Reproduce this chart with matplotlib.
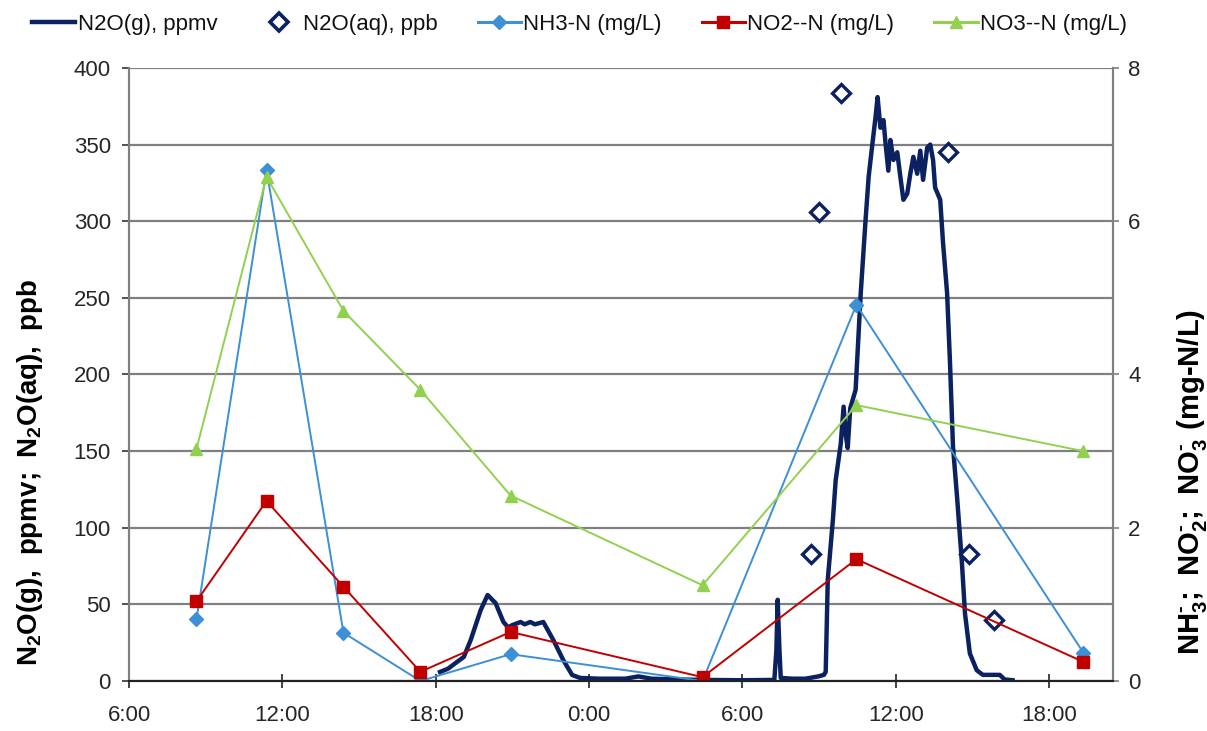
import matplotlib
matplotlib.use('Agg')
from matplotlib import pyplot as plt
from matplotlib.lines import Line2D

plt.rcParams['font.family'] = ['Liberation Sans', 'DejaVu Sans']
plt.rcParams['mathtext.fontset'] = 'custom'
plt.rcParams['mathtext.rm'] = 'Liberation Sans:bold'
plt.rcParams['mathtext.bf'] = 'Liberation Sans:bold'

# hours since midnight of day 1
sample_hours = [8.64, 11.38, 14.39, 17.40, 20.93, 28.44, 34.46, 43.34]
nh3 = [0.81, 6.67, 0.63, 0.0, 0.35, 0.0, 4.91, 0.37]
no2 = [1.04, 2.35, 1.23, 0.12, 0.64, 0.05, 1.59, 0.25]
no3 = [3.03, 6.58, 4.83, 3.80, 2.42, 1.25, 3.60, 3.00]

aq_hours = [32.70, 33.01, 33.87, 38.06, 38.88, 39.86]
aq_ppb = [83, 306, 384, 345, 83, 40]

gas_hours = [18.17, 18.48, 18.88, 19.10, 19.37, 19.76, 20.03, 20.34, 20.65, 20.83,
             21.00, 21.32, 21.48, 21.70, 21.88, 22.21, 22.60, 22.99, 23.34, 23.65,
             24.40, 25.42, 25.93, 26.44, 27.45, 28.46, 29.97, 31.25, 31.33, 31.38,
             31.45, 31.50, 31.96, 32.47, 32.97, 33.19, 33.26, 33.34, 33.54, 33.65,
             33.85, 33.96, 34.05, 34.12, 34.22, 34.43, 34.63, 34.82, 34.94, 35.09,
             35.21, 35.29, 35.40, 35.52, 35.60, 35.71, 35.79, 35.91, 36.06, 36.18,
             36.30, 36.45, 36.57, 36.69, 36.84, 36.96, 37.07, 37.23, 37.35, 37.46,
             37.54, 37.74, 37.85, 38.01, 38.12, 38.24, 38.40, 38.59, 38.71, 38.90,
             39.17, 39.41, 40.07, 40.26, 40.57]
gas_ppmv = [5.9, 8, 13, 15.7, 26.8, 46.3, 56.1, 50.9, 38.5, 35,
            36.5, 38.5, 37, 38.5, 37, 38.5, 26.8, 13.7, 3.9, 2.0,
            1.5, 1.5, 3, 1.5, 1, 0.7, 0.5, 0.7, 20, 53,
            20, 2, 1.5, 1.5, 3, 4, 6, 66, 105, 131,
            155, 179, 160, 152, 178, 190, 253, 301, 329, 351,
            368, 381, 361, 366, 351, 333, 353, 340, 345, 329,
            314, 318, 331, 342, 331, 346, 327, 348, 350, 340,
            322, 314, 286, 253, 209, 153, 120, 77, 44, 18,
            7, 4, 4, 1, 0.5]

x_ticks = [6, 12, 18, 24, 30, 36, 42]
x_labels = ['6:00', '12:00', '18:00', '0:00', '6:00', '12:00', '18:00']

navy = '#0b2160'
blue = '#3d8fd6'
red = '#c00000'
green = '#92d050'
grid_gray = '#808080'
text_col = '#262626'

fig = plt.figure(figsize=(12.07, 7.31), dpi=100)
ax = fig.add_axes([0.1069, 0.0684, 0.8152, 0.8386])
ax2 = ax.twinx()

ax.set_xlim(6, 44.5)
ax.set_ylim(0, 400)
ax2.set_ylim(0, 8)
ax.set_yticks(range(0, 401, 50))
ax2.set_yticks(range(0, 9, 2))
ax.set_xticks(x_ticks)
ax.set_xticklabels(x_labels)

ax.grid(axis='y', color=grid_gray, lw=1.6)
ax.set_axisbelow(True)

ax.plot(gas_hours, gas_ppmv, color=navy, lw=3.2, solid_joinstyle='round', zorder=3)
ax.plot(aq_hours, aq_ppb, ls='none', marker='D', markersize=9.5, mfc='white',
        mec=navy, mew=2.4, zorder=4)

ax2.plot(sample_hours, nh3, color=blue, lw=1.4, marker='D', markersize=7)
ax2.plot(sample_hours, no2, color=red, lw=1.4, marker='s', markersize=8)
ax2.plot(sample_hours, no3, color=green, lw=1.4, marker='^', markersize=8.5)

for a in (ax, ax2):
    a.spines['top'].set_visible(False)
    a.spines['left'].set_color(grid_gray)
    a.spines['right'].set_color(grid_gray)
    a.spines['left'].set_linewidth(1.5)
    a.spines['right'].set_linewidth(1.5)
    a.spines['bottom'].set_color('#222222')
    a.spines['bottom'].set_linewidth(1.5)

ax.tick_params(axis='y', direction='out', length=5, width=1.2, color='#333333',
               labelsize=16, pad=8, labelcolor=text_col)
ax2.tick_params(axis='y', direction='out', length=4, width=1.2, color=grid_gray,
                labelsize=16, pad=7, labelcolor=text_col)
ax.tick_params(axis='x', direction='inout', length=10, width=1.2, color='#222222',
               labelsize=16, pad=12, labelcolor=text_col)

ax.set_ylabel(r'$\mathregular{N_2O(g),\ ppmv;\ N_2O(aq),\ ppb}$', fontsize=20,
              fontweight='bold')
ax.yaxis.set_label_coords(-0.085, 0.34)
ax2.set_ylabel(r'$\mathregular{NH_3^{\text{-}};\ NO_2^{\text{-}};\ NO_3^{\text{-}}\ (mg\text{-}N/L)}$',
               fontsize=21, fontweight='bold')
ax2.yaxis.set_label_coords(1.063, 0.325)

handles = [
    Line2D([], [], color=navy, lw=3.2),
    Line2D([], [], ls='none', marker='D', markersize=9, mfc='white', mec=navy, mew=2.6),
    Line2D([], [], color=blue, lw=2.2, marker='D', markersize=7),
    Line2D([], [], color=red, lw=2.2, marker='s', markersize=8),
    Line2D([], [], color=green, lw=2.2, marker='^', markersize=8),
]
labels = ['N2O(g), ppmv', 'N2O(aq), ppb', 'NH3-N (mg/L)', 'NO2--N (mg/L)', 'NO3--N (mg/L)']
fig.legend(handles, labels, loc='upper left', bbox_to_anchor=(0.010, 1.008), ncol=5,
           frameon=False, fontsize=16, handlelength=1.95, handletextpad=0.1,
           columnspacing=1.8, labelcolor='#111111')

fig.savefig('out.png', dpi=100)
